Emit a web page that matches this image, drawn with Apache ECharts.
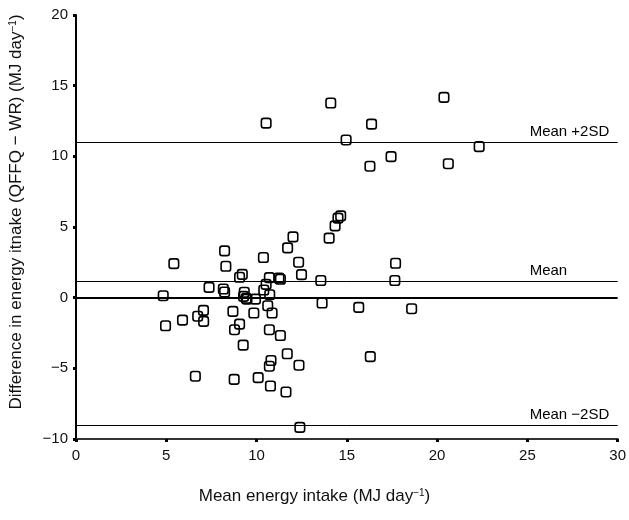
<!DOCTYPE html>
<html>
<head>
<meta charset="utf-8">
<script src="https://cdn.jsdelivr.net/npm/echarts@6/dist/echarts.min.js"></script>
<style>
html,body{margin:0;padding:0;background:#fff;}
#chart{width:629px;height:520px;}
</style>
</head>
<body>
<div id="chart"></div>
<script>
// Mean energy intake (MJ/day)
var meanIntake = [10.53,14.11,20.38,16.37,14.96,22.33,17.45,20.62,16.28,14.66,14.51,14.35,14.02,12.02,11.72,8.23,10.38,
  5.42,8.30,12.33,17.70,9.21,9.06,12.49,10.71,11.24,11.32,13.56,17.66,10.53,7.37,8.16,8.23,10.40,4.83,9.32,9.28,9.43,9.47,
  9.94,10.73,13.63,15.66,18.59,7.06,6.74,7.07,5.90,4.96,8.69,9.85,10.62,10.86,9.06,8.78,10.71,11.32,9.26,11.70,12.35,10.80,
  10.71,16.30,6.61,8.76,10.09,10.77,11.63,12.40];
// Difference in energy intake (QFFQ - WR) (MJ/day)
var diffIntake = [12.35,13.77,14.17,12.28,11.16,10.69,9.98,9.48,9.30,5.79,5.63,5.08,4.21,4.30,3.52,3.31,2.84,
  2.41,2.22,2.51,2.43,1.65,1.44,1.63,1.42,1.39,1.30,1.21,1.21,0.94,0.73,0.61,0.40,0.54,0.14,0.38,0.09,-0.05,-0.10,
  -0.10,0.21,-0.38,-0.69,-0.78,-0.90,-1.31,-1.68,-1.59,-1.99,-0.97,-1.09,-0.57,-1.09,-1.87,-2.27,-2.27,-2.68,-3.36,-3.97,-4.78,-4.45,
  -4.85,-4.17,-5.56,-5.78,-5.66,-6.25,-6.67,-9.18];
// Reference lines
var refNames = ['Mean +2SD', 'Mean', 'Mean \u22122SD'];
var refValues = [11.0, 1.15, -9.0];
var zeroValue = [0];
var xTicks = [0, 30, 5];
var yTicks = [-10, 20, 5];

var points = meanIntake.map(function (x, i) { return [x, diffIntake[i]]; });
var FONT = 'Liberation Sans, Arial, sans-serif';

var markData = refValues.map(function (v, i) {
  return {
    yAxis: v,
    lineStyle: { color: '#000', width: 1, type: 'solid' },
    label: {
      show: true,
      position: 'insideEndTop',
      distance: [6, 3],
      formatter: '{a|' + refNames[i] + '}',
      rich: { a: { width: 82, align: 'left', fontSize: 15, fontFamily: FONT, color: '#000' } }
    }
  };
});
zeroValue.forEach(function (v) {
  markData.push({ yAxis: v, lineStyle: { color: '#000', width: 1.8, type: 'solid' }, label: { show: false } });
});

var chart = echarts.init(document.getElementById('chart'), null, { renderer: 'canvas' });
chart.setOption({
  animation: false,
  backgroundColor: '#fff',
  grid: { left: 76, right: 9, top: 15, bottom: 81, containLabel: false },
  xAxis: {
    type: 'value', min: xTicks[0], max: xTicks[1], interval: xTicks[2],
    axisLine: { onZero: false, lineStyle: { color: '#333', width: 2 } },
    axisTick: { show: true, length: 3, lineStyle: { color: '#000', width: 3 } },
    axisLabel: { color: '#111', fontSize: 15, fontFamily: FONT, margin: 9 },
    splitLine: { show: false }
  },
  yAxis: {
    type: 'value', min: yTicks[0], max: yTicks[1], interval: yTicks[2],
    axisLine: { onZero: false, lineStyle: { color: '#000', width: 2 } },
    axisTick: { show: true, length: 3, lineStyle: { color: '#000', width: 3 } },
    axisLabel: {
      color: '#111', fontSize: 15, fontFamily: FONT, margin: 8,
      formatter: function (v) { return String(v).replace('-', '\u2212'); }
    },
    splitLine: { show: false }
  },
  graphic: [
    {
      type: 'text', left: 'center', top: 488,
      style: {
        text: 'Mean energy intake (MJ day{s|\u22121})',
        fontSize: 17, fontFamily: FONT, fill: '#111',
        rich: { s: { fontSize: 10, fontFamily: FONT, fill: '#111', padding: [0, 0, 7, 0] } }
      }
    },
    {
      type: 'text', x: 8, y: 212, rotation: Math.PI / 2,
      style: {
        text: 'Difference in energy itnake (QFFQ \u2212 WR) (MJ day{s|\u22121})',
        fontSize: 17, fontFamily: FONT, fill: '#111', align: 'center', verticalAlign: 'top',
        rich: { s: { fontSize: 10, fontFamily: FONT, fill: '#111', padding: [0, 0, 7, 0] } }
      }
    }
  ],
  series: [{
    type: 'scatter',
    data: points,
    symbol: 'roundRect',
    symbolSize: 9.5,
    itemStyle: { color: 'rgba(255,255,255,0)', borderColor: '#000', borderWidth: 1.6, opacity: 1 },
    markLine: {
      silent: true, symbol: ['none', 'none'],
      data: markData
    },
    z: 3
  }]
});
</script>
</body>
</html>
